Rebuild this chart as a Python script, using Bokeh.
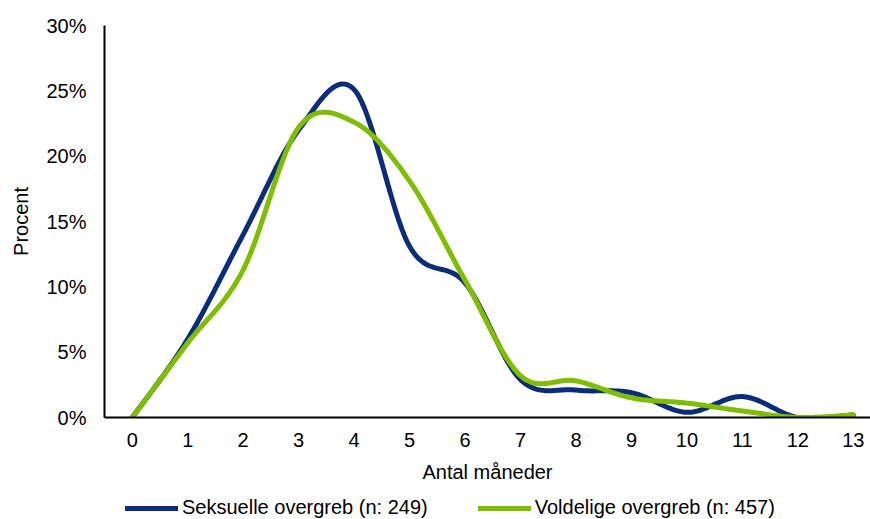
import numpy as np
from bokeh.plotting import figure
from bokeh.layouts import column
from bokeh.models import FixedTicker, PrintfTickFormatter, Legend, LegendItem, Range1d
from bokeh.embed import file_html
from bokeh.resources import INLINE

months = list(range(0, 14))
seksuelle = [0.0, 6.0, 14.0, 22.0, 25.1, 13.1, 10.3, 2.9, 2.1, 1.9, 0.4, 1.6, 0.0, 0.2]
voldelige = [0.0, 5.7, 11.3, 22.2, 22.6, 18.1, 10.5, 3.2, 2.8, 1.5, 1.1, 0.5, 0.0, 0.2]
series_names = ["Seksuelle overgreb (n: 249)", "Voldelige overgreb (n: 457)"]
y_ticks = [0, 5, 10, 15, 20, 25, 30]

BLUE = "#0B2C78"
GREEN = "#80BC00"
FONT = "Liberation Sans"
FS = "20px"


def smooth(xs, ys, n=30):
    """Catmull-Rom style Bezier smoothing (like spreadsheet 'smoothed line')."""
    xs = np.asarray(xs, float)
    ys = np.asarray(ys, float)
    px, py = [], []
    m = len(xs)
    for i in range(m - 1):
        x0, y0 = xs[i], ys[i]
        x3, y3 = xs[i + 1], ys[i + 1]
        xa, ya = (xs[i - 1], ys[i - 1]) if i > 0 else (x0, y0)
        xb, yb = (xs[i + 2], ys[i + 2]) if i + 2 < m else (x3, y3)
        x1, y1 = x0 + (x3 - xa) / 6, y0 + (y3 - ya) / 6
        x2, y2 = x3 - (xb - x0) / 6, y3 - (yb - y0) / 6
        t = np.linspace(0, 1, n, endpoint=(i == m - 2))
        a = (1 - t) ** 3
        b = 3 * (1 - t) ** 2 * t
        c = 3 * (1 - t) * t ** 2
        d = t ** 3
        px.extend(a * x0 + b * x1 + c * x2 + d * x3)
        py.extend(a * y0 + b * y1 + c * y2 + d * y3)
    return px, py


p = figure(width=870, height=485, x_range=(-0.5, 13.31), y_range=(0, 30),
           output_backend="svg", toolbar_location=None,
           min_border_left=104, min_border_right=0, min_border_top=25, min_border_bottom=66)
p.outline_line_color = None
p.grid.grid_line_color = None

sx, sy = smooth(months, seksuelle)
gx, gy = smooth(months, voldelige)
p.line(sx, sy, line_color=BLUE, line_width=5, line_cap="round", line_join="round")
p.line(gx, gy, line_color=GREEN, line_width=5, line_cap="round", line_join="round")

for ax in (p.xaxis[0], p.yaxis[0]):
    ax.axis_line_color = "black"
    ax.axis_line_width = 2
    ax.major_tick_line_color = None
    ax.minor_tick_line_color = None
    ax.major_label_text_font = FONT
    ax.major_label_text_font_size = FS
    ax.major_label_text_color = "black"
    ax.axis_label_text_font = FONT
    ax.axis_label_text_font_size = FS
    ax.axis_label_text_font_style = "normal"
    ax.axis_label_text_color = "black"

p.xaxis.ticker = FixedTicker(ticks=months)
p.xaxis.axis_label = "Antal måneder"
p.xaxis.major_label_standoff = 9
p.xaxis.axis_label_standoff = 11

p.yaxis.ticker = FixedTicker(ticks=y_ticks)
p.yaxis.formatter = PrintfTickFormatter(format="%d%%")
p.yaxis.axis_label = "Procent"
p.yaxis.major_label_standoff = 12
p.yaxis.axis_label_standoff = 11

# legend strip below the chart
nan = float("nan")
lg = figure(width=870, height=34, x_range=Range1d(0, 1), y_range=Range1d(0, 1),
            output_backend="svg", toolbar_location=None,
            min_border_left=0, min_border_right=0, min_border_top=0, min_border_bottom=0)
lg.axis.visible = False
lg.grid.grid_line_color = None
lg.outline_line_color = None
l1 = lg.line([nan], [nan], line_color=BLUE, line_width=5, line_cap="round")
l2 = lg.line([nan], [nan], line_color=GREEN, line_width=5, line_cap="round")
legend = Legend(items=[LegendItem(label=series_names[0], renderers=[l1]),
                       LegendItem(label=series_names[1], renderers=[l2])],
                orientation="horizontal", location=(21, 0),
                glyph_width=53, glyph_height=20, label_standoff=4, spacing=50,
                padding=0, margin=0, border_line_color=None, background_fill_alpha=0,
                label_text_font=FONT, label_text_font_size=FS, label_text_color="black")
lg.add_layout(legend)

layout = column(p, lg, spacing=0)
open("out.html", "w").write(file_html(layout, INLINE))
